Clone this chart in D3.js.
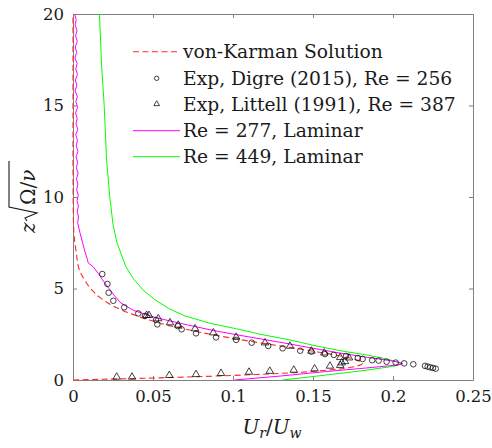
<!DOCTYPE html>
<html><head><meta charset="utf-8">
<script src="https://cdn.jsdelivr.net/npm/d3@7"></script>
<style>body{margin:0;background:#fff}svg{display:block}</style>
</head><body>
<svg id="c" width="492" height="448"></svg>
<script>
// ---- data ----
const xTicks = [0, 0.05, 0.1, 0.15, 0.2, 0.25];
const xTickLabels = ["0", "0.05", "0.1", "0.15", "0.2", "0.25"];
const yTicks = [0, 5, 10, 15, 20];
const yTickLabels = ["0", "5", "10", "15", "20"];

// von Karman solution (radial velocity vs height)
const vkZ = [0, 0.1, 0.2, 0.3, 0.4, 0.5, 0.6, 0.7, 0.8, 0.9, 1.0, 1.1, 1.2, 1.4, 1.6, 1.8, 2.0, 2.2, 2.4, 2.6, 2.8, 3.0, 3.2, 3.4, 3.6, 3.8, 4.0, 4.5, 5.0, 5.5, 6.0, 7.0, 8.0, 9.0, 12, 16, 20];
const vkU = [0, 0.046, 0.084, 0.114, 0.138, 0.154, 0.166, 0.174, 0.179, 0.181, 0.180, 0.177, 0.173, 0.162, 0.148, 0.134, 0.119, 0.105, 0.092, 0.080, 0.069, 0.059, 0.051, 0.043, 0.037, 0.031, 0.026, 0.017, 0.011, 0.007, 0.004, 0.002, 0.0006, 0.0002, 0, 0, 0];

// Re = 277, laminar
const re277Z = [20, 19.7, 19.4, 19.1, 18.8, 18.5, 18.2, 17.9, 17.6, 17.3, 17.0, 16.7, 16.4, 16.1, 15.8, 15.5, 15.2, 14.9, 14.6, 14.3, 14.0, 13.7, 13.4, 13.1, 12.8, 12.5, 12.2, 11.9, 11.6, 11.3, 11.0, 10.7, 10.4, 10.1, 9.8, 9.5, 9.2, 8.9, 8.6, 8.3, 8.0, 7.5, 7.0, 6.6, 6.4, 6.2, 5.8, 5.4, 5.0, 4.6, 4.2, 3.8, 3.4, 3.0, 2.7, 2.4, 2.1, 1.8, 1.5, 1.25, 1.1, 1.0, 0.9, 0.85, 0.78, 0.63, 0.46, 0.22, 0.0];
const re277U = [0.0010, 0.0020, 0.0013, 0.0025, 0.0016, 0.0027, 0.0014, 0.0023, 0.0012, 0.0026, 0.0017, 0.0028, 0.0015, 0.0024, 0.0013, 0.0027, 0.0018, 0.0029, 0.0016, 0.0026, 0.0019, 0.0030, 0.0017, 0.0028, 0.0020, 0.0031, 0.0019, 0.0029, 0.0021, 0.0032, 0.0022, 0.0030, 0.0023, 0.0033, 0.0025, 0.0034, 0.0026, 0.0035, 0.0029, 0.0037, 0.0045, 0.0060, 0.0075, 0.0090, 0.0095, 0.0125, 0.016, 0.019, 0.0225, 0.026, 0.030, 0.038, 0.052, 0.072, 0.088, 0.107, 0.127, 0.146, 0.165, 0.183, 0.195, 0.202, 0.206, 0.205, 0.198, 0.180, 0.158, 0.130, 0.101];

// Re = 449, laminar
const re449Z = [20, 17, 15, 12, 10, 8.5, 7.5, 6.2, 5.5, 4.9, 4.4, 3.9, 3.5, 3.1, 2.8, 2.5, 2.2, 1.9, 1.6, 1.37, 1.15, 1.0, 0.9, 0.8, 0.72, 0.5, 0.27, 0.0];
const re449U = [0.0165, 0.018, 0.0195, 0.021, 0.023, 0.025, 0.0275, 0.033, 0.038, 0.044, 0.051, 0.060, 0.070, 0.0856, 0.102, 0.117, 0.135, 0.150, 0.167, 0.1835, 0.196, 0.202, 0.205, 0.203, 0.198, 0.180, 0.158, 0.131];

// Exp, Digre (2015), Re = 256
const digreU = [0.0183, 0.0215, 0.0223, 0.0252, 0.032, 0.0408, 0.045, 0.0519, 0.0527, 0.0654, 0.0679, 0.0769, 0.0894, 0.102, 0.1117, 0.122, 0.131, 0.142, 0.149, 0.1575, 0.163, 0.1706, 0.178, 0.181, 0.187, 0.191, 0.196, 0.2017, 0.207, 0.2127, 0.220, 0.2217, 0.2233, 0.225, 0.2267];
const digreZ = [5.79, 5.25, 4.77, 4.33, 3.97, 3.64, 3.5, 3.28, 3.04, 2.95, 2.77, 2.55, 2.33, 2.19, 2.04, 1.86, 1.73, 1.6, 1.55, 1.42, 1.37, 1.31, 1.2, 1.15, 1.08, 1.06, 1.0, 0.95, 0.91, 0.86, 0.77, 0.73, 0.69, 0.66, 0.62];

// Exp, Littell (1991), Re = 387
const littellU = [0.0273, 0.0369, 0.0602, 0.0769, 0.0925, 0.110, 0.123, 0.138, 0.151, 0.1606, 0.167, 0.168, 0.170, 0.1725, 0.167, 0.157, 0.149, 0.1356, 0.120, 0.102, 0.0877, 0.0763, 0.0658, 0.0606, 0.0533, 0.0475, 0.046];
const littellZ = [0.13, 0.13, 0.22, 0.27, 0.33, 0.40, 0.45, 0.51, 0.58, 0.73, 0.77, 0.91, 0.98, 1.18, 1.2, 1.45, 1.55, 1.82, 2.0, 2.31, 2.55, 2.77, 2.97, 3.1, 3.32, 3.5, 3.5];

const legendLabels = ["von-Karman Solution", "Exp, Digre (2015), Re = 256", "Exp, Littell (1991), Re = 387", "Re = 277, Laminar", "Re = 449, Laminar"];

// ---- drawing ----
const svg = d3.select("#c");
const L = 73, R = 473, T = 14, B = 380;
const x = d3.scaleLinear().domain([0, 0.25]).range([L, R]);
const y = d3.scaleLinear().domain([0, 20]).range([B, T]);
const FONT = "'DejaVu Serif', serif";
const axisCol = "#808080", textCol = "#1a1a1a";
const RED = "#ff2a2a";

const defs = svg.append("defs");
defs.append("clipPath").attr("id", "clip").append("rect")
  .attr("x", L - 1).attr("y", T).attr("width", R - L + 1).attr("height", B - T + 1);

// axes with inward ticks
function styleAxis(g) {
  g.select(".domain").attr("stroke", axisCol).attr("stroke-width", 1);
  g.selectAll(".tick line").attr("stroke", axisCol);
  g.selectAll("text").attr("fill", textCol).attr("font-family", FONT);
}
const xb = svg.append("g").attr("transform", `translate(0,${B})`)
  .call(d3.axisBottom(x).tickValues(xTicks).tickFormat((d, i) => xTickLabels[i]).tickSizeInner(-4).tickSizeOuter(0).tickPadding(10));
styleAxis(xb); xb.selectAll("text").attr("font-size", 16.5);
const xt = svg.append("g").attr("transform", `translate(0,${T})`)
  .call(d3.axisTop(x).tickValues(xTicks).tickFormat("").tickSizeInner(-4).tickSizeOuter(0));
styleAxis(xt);
const yl = svg.append("g").attr("transform", `translate(${L},0)`)
  .call(d3.axisLeft(y).tickValues(yTicks).tickFormat((d, i) => yTickLabels[i]).tickSizeInner(-4).tickSizeOuter(0).tickPadding(9));
styleAxis(yl); yl.selectAll("text").attr("font-size", 16.5);
const yr = svg.append("g").attr("transform", `translate(${R},0)`)
  .call(d3.axisRight(y).tickValues(yTicks).tickFormat("").tickSizeInner(-4).tickSizeOuter(0));
styleAxis(yr);

const plot = svg.append("g").attr("clip-path", "url(#clip)");
const line = d3.line().x(d => x(d[0])).y(d => y(d[1]));
function pts(us, zs) { return us.map((u, i) => [u, zs[i]]); }

plot.append("path").datum(pts(re449U, re449Z)).attr("d", line)
  .attr("fill", "none").attr("stroke", "#00ff00").attr("stroke-width", 1);
plot.append("path").datum(pts(re277U, re277Z)).attr("d", line)
  .attr("fill", "none").attr("stroke", "#ff00ff").attr("stroke-width", 1);
plot.append("path").datum(pts(vkU, vkZ)).attr("d", line.curve(d3.curveMonotoneY))
  .attr("fill", "none").attr("stroke", RED).attr("stroke-width", 1.1).attr("stroke-dasharray", "6,3.5");

const sym = d3.symbol();
plot.selectAll(".dig").data(pts(digreU, digreZ)).enter().append("circle")
  .attr("cx", d => x(d[0])).attr("cy", d => y(d[1])).attr("r", 2.8)
  .attr("fill", "none").attr("stroke", "#111").attr("stroke-width", 0.8);
plot.selectAll(".lit").data(pts(littellU, littellZ)).enter().append("path")
  .attr("d", sym.type(d3.symbolTriangle).size(24)())
  .attr("transform", d => `translate(${x(d[0])},${y(d[1]) - 0.6})`)
  .attr("fill", "none").attr("stroke", "#111").attr("stroke-width", 0.8);

// legend
const legY = [51.7, 78.3, 104, 130.7, 156.7];
const lg = svg.append("g");
legendLabels.forEach((t, i) => {
  lg.append("text").attr("x", 183).attr("y", legY[i] + 6.5).text(t)
    .attr("font-family", FONT).attr("font-size", 18.7).attr("fill", textCol);
});
lg.append("line").attr("x1", 133).attr("x2", 180).attr("y1", legY[0]).attr("y2", legY[0])
  .attr("stroke", RED).attr("stroke-width", 1.1).attr("stroke-dasharray", "6,3.5");
lg.append("circle").attr("cx", 156.7).attr("cy", legY[1]).attr("r", 2.2)
  .attr("fill", "none").attr("stroke", "#111").attr("stroke-width", 0.8);
lg.append("path").attr("d", sym.type(d3.symbolTriangle).size(14)())
  .attr("transform", `translate(156.7,${legY[2]})`)
  .attr("fill", "none").attr("stroke", "#111").attr("stroke-width", 0.8);
lg.append("line").attr("x1", 133).attr("x2", 180).attr("y1", legY[3]).attr("y2", legY[3]).attr("stroke", "#ff00ff");
lg.append("line").attr("x1", 133).attr("x2", 180).attr("y1", legY[4]).attr("y2", legY[4]).attr("stroke", "#00ff00");

// x label U_r / U_w
const xl = svg.append("text").attr("x", 272).attr("y", 434).attr("text-anchor", "middle")
  .attr("font-family", FONT).attr("font-size", 20).attr("fill", textCol);
xl.append("tspan").attr("font-style", "italic").text("U");
xl.append("tspan").attr("font-style", "italic").attr("font-size", 14).attr("dy", 4).text("r");
xl.append("tspan").attr("dy", -4).text("/");
xl.append("tspan").attr("font-style", "italic").text("U");
xl.append("tspan").attr("font-style", "italic").attr("font-size", 14).attr("dy", 4).text("w");

// y label z sqrt(Omega/nu)
const ylab = svg.append("g").attr("transform", "translate(35,233) rotate(-90)");
ylab.append("text").attr("x", 0).attr("y", 0).attr("font-family", FONT).attr("font-size", 20)
  .attr("font-style", "italic").attr("fill", textCol).text("z");
ylab.append("path").attr("d", "M12,-8 L15,-10 L20,2 L26,-26 L72,-26")
  .attr("fill", "none").attr("stroke", textCol).attr("stroke-width", 1.1);
const om = ylab.append("text").attr("x", 28).attr("y", 0).attr("font-family", FONT).attr("font-size", 20).attr("fill", textCol);
om.append("tspan").text("Ω/");
om.append("tspan").attr("font-style", "italic").text("ν");
</script>
</body></html>
